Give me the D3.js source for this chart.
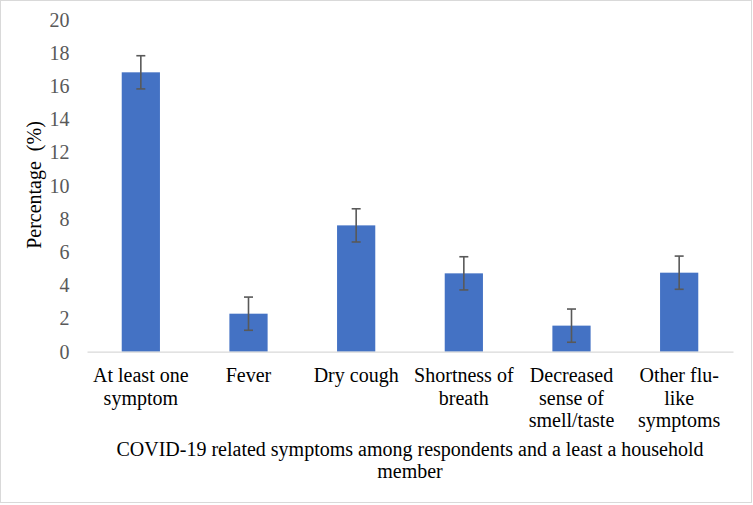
<!DOCTYPE html>
<html>
<head>
<meta charset="utf-8">
<script src="https://cdn.jsdelivr.net/npm/d3@7"></script>
<style>
  html, body { margin: 0; padding: 0; background: #fff; }
  svg { display: block; }
</style>
</head>
<body>
<script>
const categories = [
  ["At least one", "symptom"],
  ["Fever"],
  ["Dry cough"],
  ["Shortness of", "breath"],
  ["Decreased", "sense of", "smell/taste"],
  ["Other flu-", "like", "symptoms"]
];
const values = [16.83, 2.29, 7.61, 4.72, 1.57, 4.76];
const errors = [1, 1, 1, 1, 1, 1];
const yTicks = [0, 2, 4, 6, 8, 10, 12, 14, 16, 18, 20];
const yLabel = "Percentage\u00A0 (%)";
const xTitle = ["COVID-19 related symptoms among respondents and a least a household", "member"];

(function () {
const W = 753, H = 505;
const FONT = "'Liberation Serif'";
const FS = "20px";
const svg = d3.select("body").append("svg").attr("width", W).attr("height", H);

svg.append("rect").attr("x", 0.5).attr("y", 0.5).attr("width", W - 2).attr("height", H - 3)
  .attr("fill", "#fff").attr("stroke", "#d9d9d9").attr("stroke-width", 1);

const pLeft = 87, pRight = 733, pTop = 19.7, pBottom = 351.7;
const x = d3.scaleBand().domain(d3.range(categories.length)).range([pLeft, pRight])
  .paddingInner(0.645).paddingOuter(0.3225);
const y = d3.scaleLinear().domain([0, 20]).range([pBottom, pTop]);

// y axis tick labels
const yAxis = d3.axisLeft(y).tickValues(yTicks).tickSize(0).tickPadding(0);
const gy = svg.append("g").attr("transform", `translate(${69.5},0)`).call(yAxis);
gy.select(".domain").remove();
gy.selectAll("text").attr("fill", "#595959").style("font-size", FS);

// bars
svg.append("g").selectAll("rect").data(values).join("rect")
  .attr("x", (d, i) => x(i)).attr("width", x.bandwidth())
  .attr("y", d => y(d)).attr("height", d => y(0) - y(d))
  .attr("fill", "#4472c4");

// baseline axis
const xAxis = d3.axisBottom(x).tickSize(0).tickFormat("");
const gx = svg.append("g").attr("transform", `translate(0,${pBottom})`).call(xAxis);
gx.select(".domain").attr("stroke", "#d9d9d9").attr("stroke-width", 1.3);

// error bars
const eg = svg.append("g").attr("stroke", "#595959").attr("stroke-width", 1.6).attr("fill", "none");
values.forEach((v, i) => {
  const cx = x(i) + x.bandwidth() / 2;
  const y1 = y(v + errors[i]), y2 = y(v - errors[i]);
  eg.append("line").attr("x1", cx).attr("x2", cx).attr("y1", y1).attr("y2", y2);
  eg.append("line").attr("x1", cx - 4.5).attr("x2", cx + 4.5).attr("y1", y1).attr("y2", y1);
  eg.append("line").attr("x1", cx - 4.5).attr("x2", cx + 4.5).attr("y1", y2).attr("y2", y2);
});

// category labels
categories.forEach((lines, i) => {
  const cx = x(i) + x.bandwidth() / 2;
  const t = svg.append("text").attr("text-anchor", "middle").attr("fill", "#000")
    .style("font-size", FS);
  lines.forEach((ln, j) => {
    t.append("tspan").attr("x", cx).attr("y", 382 + j * 22.7).text(ln);
  });
});

// x title
const tt = svg.append("text").attr("text-anchor", "middle").attr("fill", "#000").style("font-size", FS);
xTitle.forEach((ln, j) => {
  tt.append("tspan").attr("x", (pLeft + pRight) / 2).attr("y", 456 + j * 21.5).text(ln);
});

// y label
svg.append("text").attr("transform", `translate(41,${185}) rotate(-90)`)
  .attr("text-anchor", "middle").attr("fill", "#000").style("font-size", FS)
  .text(yLabel);

svg.selectAll("text").style("font-family", FONT);
})();
</script>
</body>
</html>
